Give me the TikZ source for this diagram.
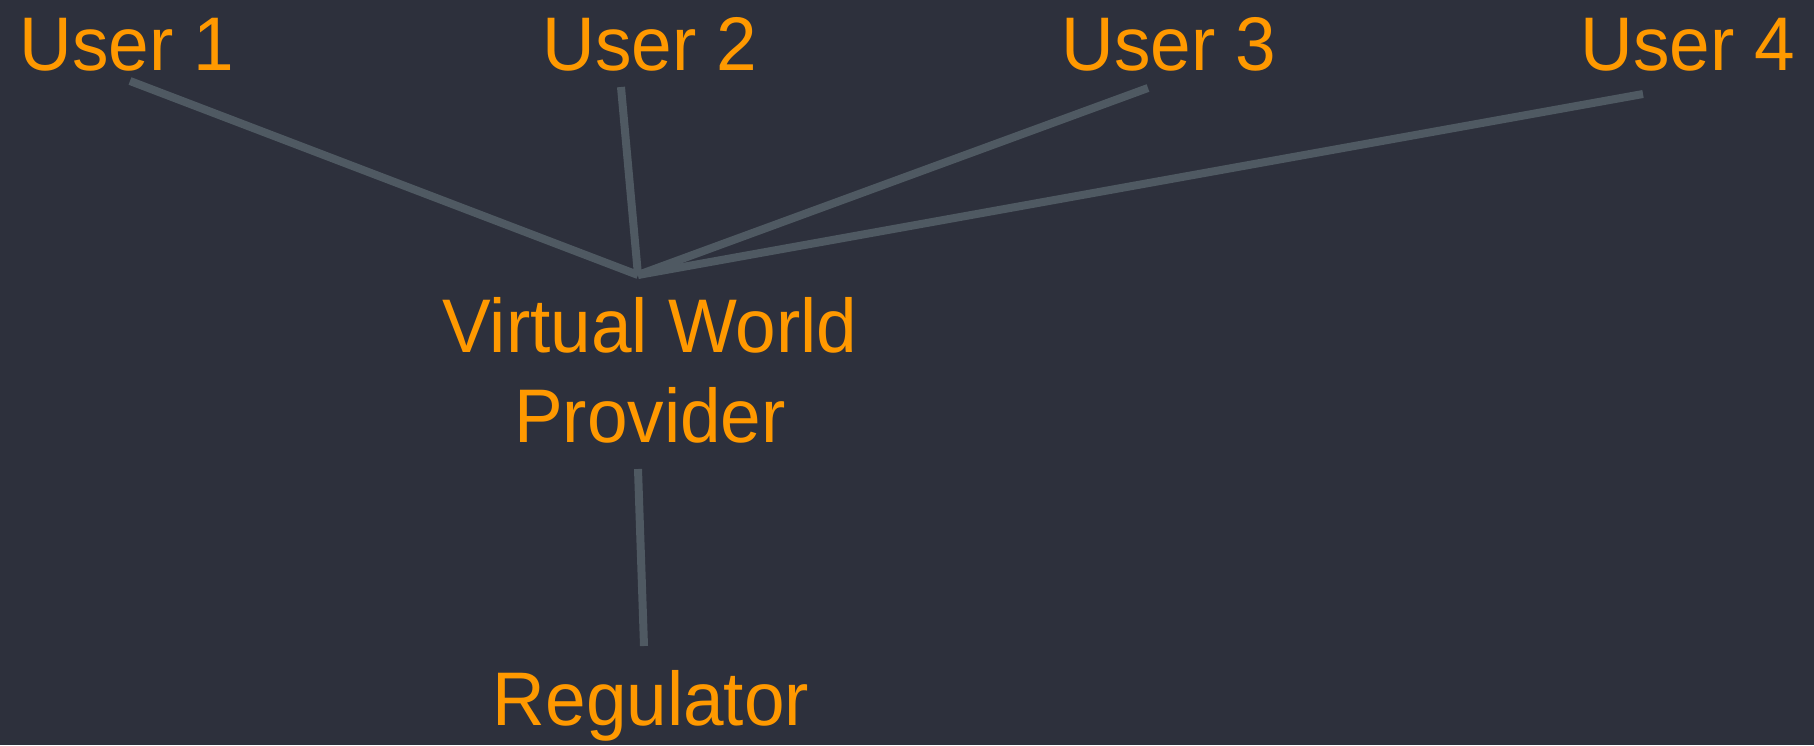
\documentclass[tikz,border=0pt]{standalone}
\usepackage{fontspec}
\setmainfont[FakeStretch=0.96]{Liberation Sans}
\definecolor{bgc}{HTML}{2D303C}
\definecolor{lab}{HTML}{FF9900}
\definecolor{edge}{HTML}{4F5962}
\begin{document}
\begin{tikzpicture}[x=1pt,y=-1pt,
  lbl/.style={inner sep=0pt,text=lab,font=\fontsize{76}{90}\selectfont,align=center},
  link/.style={draw=edge,line width=8pt}]
\fill[bgc] (0,0) rectangle (1814,745);
\useasboundingbox (0,0) rectangle (1814,745);
\node[lbl,anchor=base] (u1) at (127,70) {User 1};
\node[lbl,anchor=base] (u2) at (650,70) {User 2};
\node[lbl,anchor=base] (u3) at (1169,70) {User 3};
\node[lbl,anchor=base] (u4) at (1688,70) {User 4};
\node[lbl,anchor=north] (vwp) at (650,297) {Virtual World\\Provider};
\node[lbl,anchor=base] (reg) at (651,725) {Regulator};
\coordinate (hub) at (638,275);
\coordinate (p1) at (130,81);
\coordinate (p2) at (621,87);
\coordinate (p3) at (1148,88);
\coordinate (p4) at (1643,94);
\coordinate (v1) at (638,469);
\coordinate (r1) at (644,646);
\draw[link] (p1) -- (hub);
\draw[link] (p2) -- (hub);
\draw[link] (p3) -- (hub);
\draw[link] (p4) -- (hub);
\draw[link] (v1) -- (r1);
\end{tikzpicture}
\end{document}
